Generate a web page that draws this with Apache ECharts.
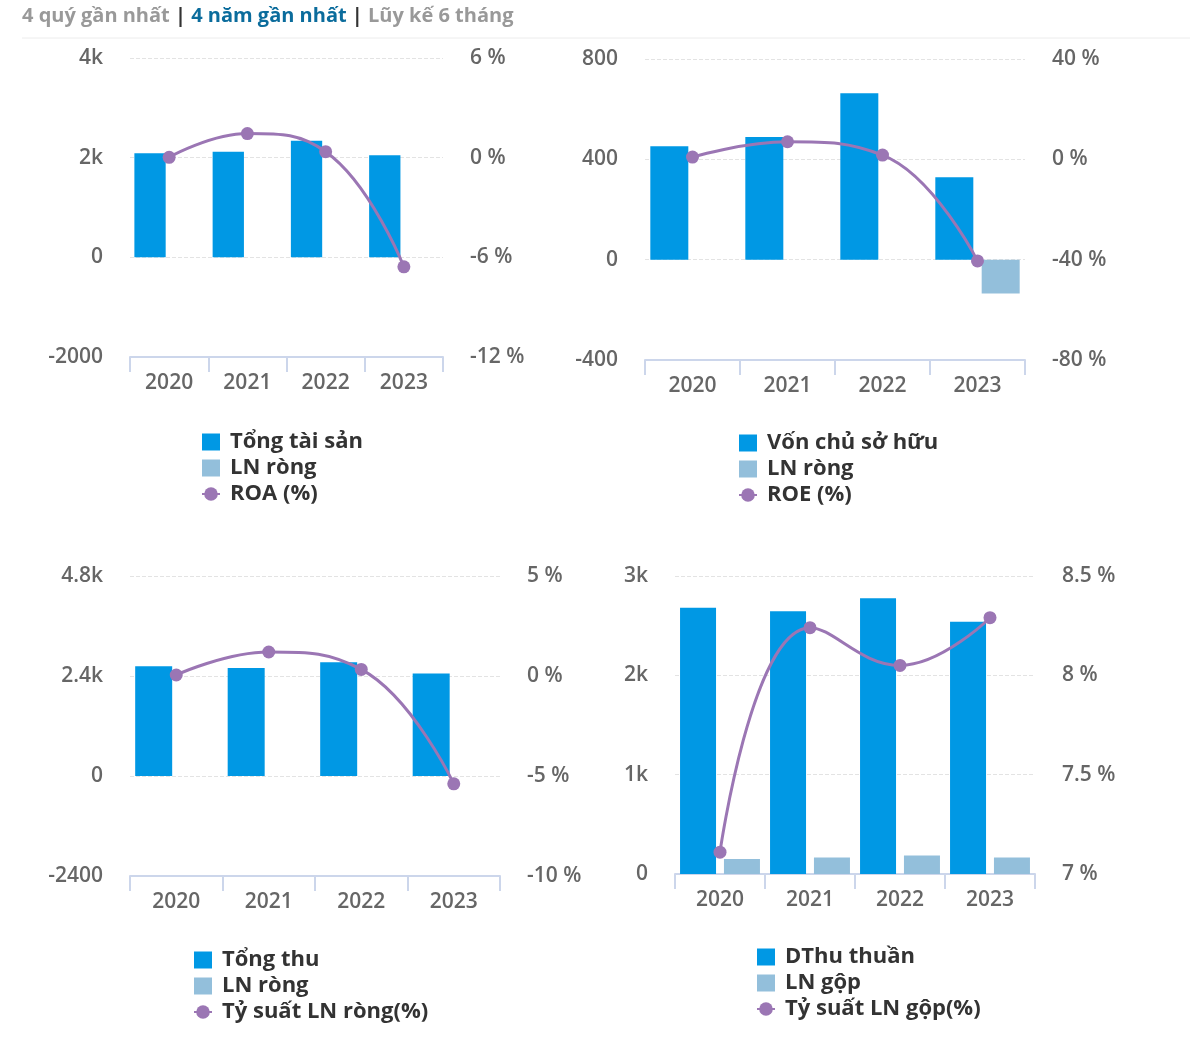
<!DOCTYPE html>
<html>
<head>
<meta charset="utf-8">
<script src="https://cdn.jsdelivr.net/npm/echarts@6/dist/echarts.min.js"></script>
<style>
  html, body { margin: 0; padding: 0; background: #fff; }
  #chart { width: 1190px; height: 1054px; }
</style>
</head>
<body>
<div id="chart"></div>
<script>
// dữ liệu 4 năm gần nhất
const years = ['2020', '2021', '2022', '2023'];

// LN ròng: chỉ thấy cột âm năm 2023 ở biểu đồ vốn chủ sở hữu
const lnRongTaiSan = [0, 0, 0, 0];
const lnRongVon = [0, 0, 0, -135];
const lnRongThu = [0, 0, 0, 0];

const tongTaiSan = [2090, 2120, 2340, 2050];
const roa = [0.02, 1.45, 0.36, -6.57];

const vonChuSoHuu = [452, 489, 663, 329];
const roe = [0.9, 7.0, 1.7, -40.5];

const tongThu = [2635, 2594, 2730, 2461];
const tySuatLnRong = [0.05, 1.2, 0.33, -5.39];

const dthuThuan = [2680, 2645, 2775, 2540];
const lnGop = [150, 165, 185, 165];
const tySuatLnGop = [7.11, 8.24, 8.05, 8.29];

// [min, max, interval] cho từng trục
const range1Left = [-2000, 4000, 2000], range1Right = [-12, 6, 6];
const range2Left = [-400, 800, 400], range2Right = [-80, 40, 40];
const range3Left = [-2400, 4800, 2400], range3Right = [-10, 5, 5];
const range4Left = [0, 3000, 1000], range4Right = [7, 8.5, 0.5];

const FONT = '"Open Sans", "DejaVu Sans", sans-serif';
const BLUE = '#0098e4';
const LIGHT = '#93bfdb';
const PURPLE = '#9b76b4';

const chart = echarts.init(document.getElementById('chart'));

// nhãn kiểu Highcharts: 4000 -> 4k, -2000 giữ nguyên
const kFmt = v => (v >= 1000 ? (v / 1000) + 'k' : String(v));
const pctFmt = v => v + ' %';

const grids = [
  { left: 130, top: 58, width: 313, height: 299 },
  { left: 645, top: 59, width: 380, height: 301 },
  { left: 130, top: 576, width: 370, height: 300 },
  { left: 675, top: 576, width: 360, height: 298 }
];

const axisText = { color: '#666', fontSize: 21, fontWeight: 600, fontFamily: FONT };

const xAxes = grids.map((g, i) => ({
  type: 'category',
  gridIndex: i,
  data: years,
  axisLine: { onZero: false, lineStyle: { color: '#ccd6eb', width: 2 } },
  axisTick: { show: true, length: 15, lineStyle: { color: '#ccd6eb', width: 2 } },
  axisLabel: Object.assign({ margin: 16 }, axisText)
}));

const leftRanges = [range1Left, range2Left, range3Left, range4Left];
const rightRanges = [range1Right, range2Right, range3Right, range4Right];

const yAxes = [];
leftRanges.forEach((r, i) => {
  yAxes.push({
    type: 'value', gridIndex: i, position: 'left',
    min: r[0], max: r[1], interval: r[2],
    axisLine: { show: false }, axisTick: { show: false },
    axisLabel: Object.assign({ margin: 27, formatter: kFmt }, axisText),
    splitLine: { show: true, lineStyle: { color: '#e3e3e3', type: 'dashed', width: 1 } }
  });
  yAxes.push({
    type: 'value', gridIndex: i, position: 'right',
    min: rightRanges[i][0], max: rightRanges[i][1], interval: rightRanges[i][2],
    axisLine: { show: false }, axisTick: { show: false },
    axisLabel: Object.assign({ margin: 27, formatter: pctFmt }, axisText),
    splitLine: { show: false }
  });
});

function barSeries(name, data, idx, color) {
  return {
    name, type: 'bar', data,
    xAxisIndex: idx, yAxisIndex: idx * 2,
    barWidth: '40%', barGap: '22%',
    itemStyle: { color }
  };
}
function lineSeries(name, data, idx) {
  return {
    name, type: 'line', data,
    xAxisIndex: idx, yAxisIndex: idx * 2 + 1,
    smooth: 0.45, symbol: 'circle', symbolSize: 13,
    lineStyle: { color: PURPLE, width: 3 },
    itemStyle: { color: PURPLE },
    z: 5
  };
}

const series = [
  barSeries('Tổng tài sản', tongTaiSan, 0, BLUE),
  barSeries('LN ròng', lnRongTaiSan, 0, LIGHT),
  lineSeries('ROA (%)', roa, 0),
  barSeries('Vốn chủ sở hữu', vonChuSoHuu, 1, BLUE),
  barSeries('LN ròng', lnRongVon, 1, LIGHT),
  lineSeries('ROE (%)', roe, 1),
  barSeries('Tổng thu', tongThu, 2, BLUE),
  barSeries('LN ròng', lnRongThu, 2, LIGHT),
  lineSeries('Tỷ suất LN ròng(%)', tySuatLnRong, 2),
  barSeries('DThu thuần', dthuThuan, 3, BLUE),
  barSeries('LN gộp', lnGop, 3, LIGHT),
  lineSeries('Tỷ suất LN gộp(%)', tySuatLnGop, 3)
];

function legend(names, left, top) {
  return {
    orient: 'vertical', left, top, padding: 0,
    data: names,
    itemWidth: 18, itemHeight: 17, itemGap: 4,
    selectedMode: false,
    textStyle: { color: '#333', fontSize: 22, fontWeight: 'bold', fontFamily: FONT, padding: [0, 0, 0, 5] }
  };
}

chart.setOption({
  animation: false,
  title: {
    left: 22, top: 6, padding: 0,
    text: '{g|4 quý gần nhất} {p||} {b|4 năm gần nhất} {p||} {g|Lũy kế 6 tháng}',
    textStyle: {
      fontFamily: FONT, fontSize: 20, fontWeight: 'bold',
      rich: {
        g: { color: '#999', fontSize: 20, fontWeight: 'bold', fontFamily: FONT },
        b: { color: '#0b6c9c', fontSize: 20, fontWeight: 'bold', fontFamily: FONT },
        p: { color: '#333', fontSize: 20, fontWeight: 'bold', fontFamily: FONT }
      }
    }
  },
  graphic: [{
    type: 'line', shape: { x1: 22, y1: 38, x2: 1190, y2: 38 },
    style: { stroke: '#ececec', lineWidth: 1 }
  }],
  grid: grids,
  xAxis: xAxes,
  yAxis: yAxes,
  legend: [
    legend([{ name: 'Tổng tài sản', icon: 'rect' }, { name: 'LN ròng', icon: 'rect' }, 'ROA (%)'], 201, 431),
    legend([{ name: 'Vốn chủ sở hữu', icon: 'rect' }, { name: 'LN ròng', icon: 'rect' }, 'ROE (%)'], 738, 432),
    legend([{ name: 'Tổng thu', icon: 'rect' }, { name: 'LN ròng', icon: 'rect' }, 'Tỷ suất LN ròng(%)'], 193, 949),
    legend([{ name: 'DThu thuần', icon: 'rect' }, { name: 'LN gộp', icon: 'rect' }, 'Tỷ suất LN gộp(%)'], 756, 946)
  ],
  series
});
</script>
</body>
</html>
